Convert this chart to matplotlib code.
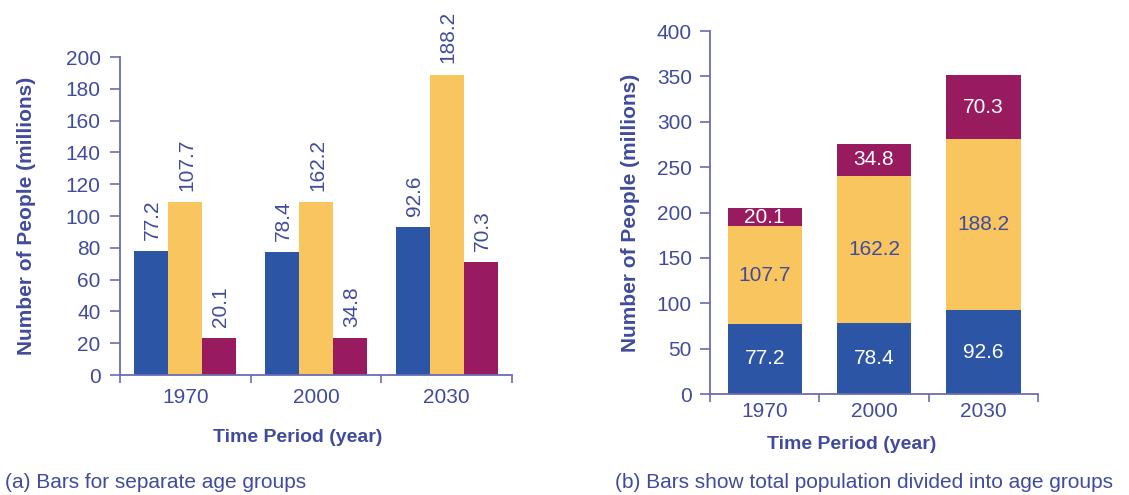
"""Population by age group: side-by-side bars vs stacked bars"""
import numpy as np
import matplotlib
matplotlib.use('Agg')
import matplotlib.pyplot as plt

# data
years = ['1970', '2000', '2030']
young = [77.2, 78.4, 92.6]
middle = [107.7, 162.2, 188.2]
old = [20.1, 34.8, 70.3]

# bar heights as drawn in panel (a) -- the artwork does not follow its labels
young_drawn = [78.0, 77.5, 93.0]
middle_drawn = [109.0, 109.0, 189.0]
old_drawn = [23.0, 23.0, 71.0]

BLUE = '#2d55a5'
YELLOW = '#f8c55e'
PURPLE = '#991b5f'
TEXT = '#404b9d'
AXIS = '#6b6cb3'

plt.rcParams['font.family'] = ['Liberation Sans', 'DejaVu Sans']
NARROW = ['Liberation Sans Narrow', 'Liberation Sans', 'DejaVu Sans']

fig = plt.figure(figsize=(11.29, 4.95), dpi=100)
ax1 = fig.add_axes([0.1063, 0.2424, 0.3472, 0.6424])
ax2 = fig.add_axes([0.6289, 0.2040, 0.2905, 0.7333])

x = np.arange(len(years))


def style_axis(ax, ylim, yticks, xpad, ypad):
    ax.set_xlim(-0.5, 2.5)
    ax.set_ylim(*ylim)
    ax.set_yticks(yticks)
    ax.set_xticks(x)
    ax.set_xticklabels(years)
    ax.set_xticks([-0.5, 0.5, 1.5, 2.5], minor=True)
    for side in ['top', 'right']:
        ax.spines[side].set_visible(False)
    for side in ['left', 'bottom']:
        ax.spines[side].set_color(AXIS)
        ax.spines[side].set_linewidth(1.3)
    ax.tick_params(axis='y', direction='out', length=7, width=1.2,
                   color=AXIS, labelcolor=TEXT, labelsize=15, pad=ypad)
    ax.tick_params(axis='x', which='major', length=0, labelcolor=TEXT,
                   labelsize=15, pad=xpad)
    ax.tick_params(axis='x', which='minor', direction='out', length=6,
                   width=1.2, color=AXIS)
    ax.set_ylabel('Number of People (millions)', color=TEXT,
                  fontsize=15, fontweight='bold')
    ax.set_xlabel('Time Period (year)', color=TEXT,
                  fontsize=14, fontweight='bold')


# (a) separate bars
w = 0.26
series = [(young_drawn, young, BLUE), (middle_drawn, middle, YELLOW),
          (old_drawn, old, PURPLE)]
for i, (heights, labels, color) in enumerate(series):
    pos = x + (i - 1) * w
    ax1.bar(pos, heights, width=w, color=color, zorder=2)
    for px, h, lab in zip(pos, heights, labels):
        ax1.annotate(f'{lab:.1f}', (px, h), xytext=(1, 8),
                     textcoords='offset points', rotation=90,
                     ha='center', va='bottom', color=TEXT, fontsize=15,
                     family=NARROW)

style_axis(ax1, (0, 200), range(0, 201, 20), xpad=9, ypad=7)
ax1.yaxis.set_label_coords(-0.214, 0.5)
ax1.xaxis.set_label_coords(0.454, -0.171)

# (b) stacked bars
bw = 0.68
bottom = np.zeros(len(years))
stack = [(young, BLUE, 'white'), (middle, YELLOW, TEXT), (old, PURPLE, 'white')]
for vals, color, tcolor in stack:
    vals = np.array(vals)
    ax2.bar(x, vals, width=bw, bottom=bottom, color=color, zorder=2)
    for px, b, v in zip(x, bottom, vals):
        ax2.text(px, b + v / 2, f'{v:.1f}', ha='center', va='center',
                 color=tcolor, fontsize=15)
    bottom += vals

style_axis(ax2, (0, 400), range(0, 401, 50), xpad=6, ypad=6)
ax2.yaxis.set_label_coords(-0.215, 0.5)
ax2.xaxis.set_label_coords(0.433, -0.116)

# captions
fig.text(0.004, 0.025, '(a) Bars for separate age groups',
         color=TEXT, fontsize=15, ha='left', va='center')
fig.text(0.545, 0.025, '(b) Bars show total population divided into age groups',
         color=TEXT, fontsize=15, ha='left', va='center')

fig.savefig('out.png', dpi=100)
